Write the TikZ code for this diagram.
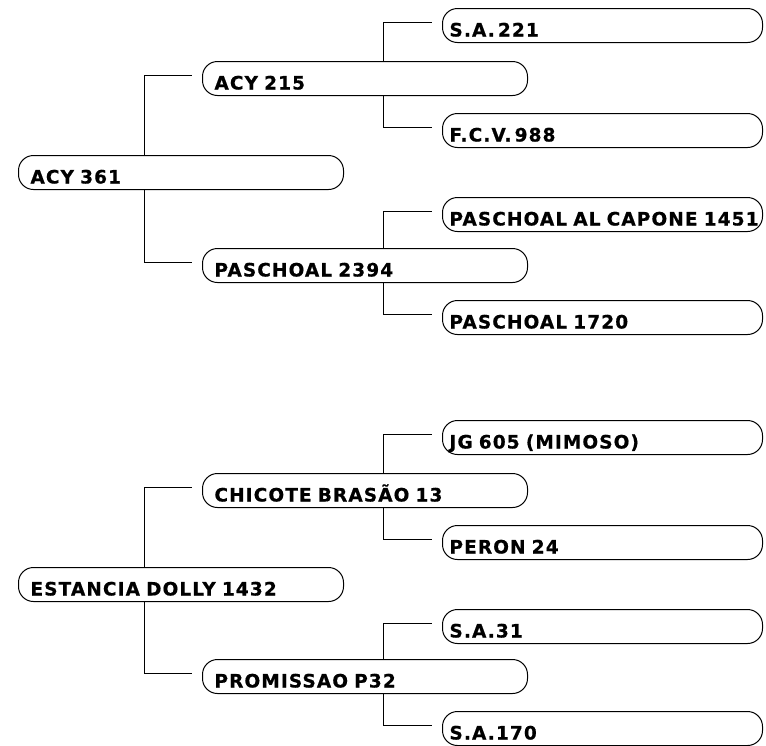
\documentclass[tikz,border=0pt]{standalone}
\usepackage{fontspec}
\setmainfont{DejaVu Sans}
\newfontfamily\namefont{DejaVu Sans}[LetterSpace=6, BoldFeatures={FakeBold=0.6}]
\usetikzlibrary{positioning}

\begin{document}
\begin{tikzpicture}[
  x=1pt, y=-1pt,
  font=\namefont\bfseries\fontsize{18.5}{22}\selectfont,
  box/.style={draw, line width=1pt, rounded corners=15pt, anchor=north west,
    text width=301pt, inner xsep=12pt, inner ysep=0pt,
    text height=28pt, text depth=6pt, align=left},
  leaf/.style={box, text width=306pt, inner xsep=7pt},
  link/.style={line width=0.8pt}]
\useasboundingbox (0,0) rectangle (766,745);
% first pedigree
\node[box] (acy361) at (18,155) {ACY 361};
\node[box] (acy215) at (202,61) {ACY 215};
\node[box] (pas2394) at (202,248) {PASCHOAL 2394};
\node[leaf] (sa221) at (442,8) {S.A.\,221};
\node[leaf] (fcv988) at (442,113) {F.C.V.\,988};
\node[leaf] (capone) at (442,197) {\mbox{PASCHOAL AL CAPONE 1451}};
\node[leaf] (pas1720) at (442,300) {PASCHOAL 1720};
% second pedigree
\node[box] (dolly) at (18,567) {ESTANCIA DOLLY 1432};
\node[box] (chicote) at (202,473) {CHICOTE BRASÃO 13};
\node[box] (prom) at (202,659) {PROMISSAO P32};
\node[leaf] (jg605) at (442,420) {JG 605 (MIMOSO)};
\node[leaf] (peron) at (442,525) {PERON 24};
\node[leaf] (sa31) at (442,609) {S.A.31};
\node[leaf] (sa170) at (442,711) {S.A.170};
% links
\draw[link] ([xshift=126pt]acy361.north west) |- ([shift={(-10pt,3pt)}]acy215.west);
\draw[link] ([xshift=126pt]acy361.south west) |- ([shift={(-10pt,3pt)}]pas2394.west);
\draw[link] ([xshift=181pt]acy215.north west) |- ([shift={(-10pt,3pt)}]sa221.west);
\draw[link] ([xshift=181pt]acy215.south west) |- ([shift={(-10pt,3pt)}]fcv988.west);
\draw[link] ([xshift=181pt]pas2394.north west) |- ([shift={(-10pt,3pt)}]capone.west);
\draw[link] ([xshift=181pt]pas2394.south west) |- ([shift={(-10pt,3pt)}]pas1720.west);
\draw[link] ([xshift=126pt]dolly.north west) |- ([shift={(-10pt,3pt)}]chicote.west);
\draw[link] ([xshift=126pt]dolly.south west) |- ([shift={(-10pt,3pt)}]prom.west);
\draw[link] ([xshift=181pt]chicote.north west) |- ([shift={(-10pt,3pt)}]jg605.west);
\draw[link] ([xshift=181pt]chicote.south west) |- ([shift={(-10pt,3pt)}]peron.west);
\draw[link] ([xshift=181pt]prom.north west) |- ([shift={(-10pt,3pt)}]sa31.west);
\draw[link] ([xshift=181pt]prom.south west) |- ([shift={(-10pt,3pt)}]sa170.west);
\end{tikzpicture}
\end{document}
